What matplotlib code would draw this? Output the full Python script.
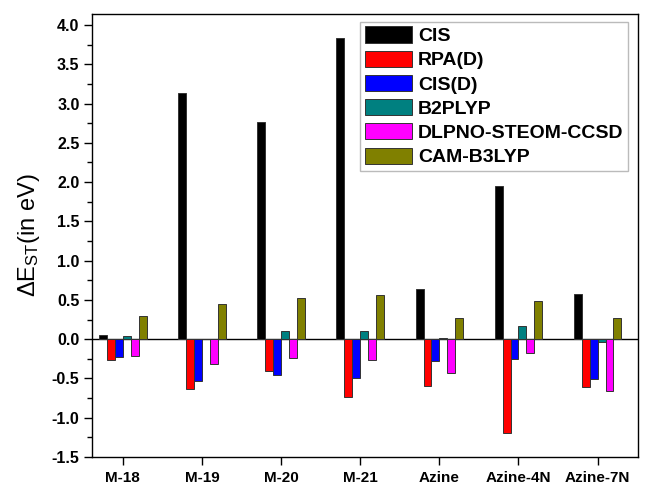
import matplotlib
matplotlib.use("Agg")
import matplotlib.pyplot as plt
from matplotlib.ticker import MultipleLocator
import numpy as np

plt.rcParams['font.family'] = ['Liberation Sans', 'DejaVu Sans']
plt.rcParams['mathtext.fontset'] = 'custom'
plt.rcParams['mathtext.rm'] = 'Liberation Sans'
plt.rcParams['mathtext.it'] = 'Liberation Sans'

molecules = ['M-18', 'M-19', 'M-20', 'M-21', 'Azine', 'Azine-4N', 'Azine-7N']
methods = ['CIS', 'RPA(D)', 'CIS(D)', 'B2PLYP', 'DLPNO-STEOM-CCSD', 'CAM-B3LYP']

cis = [0.05, 3.14, 2.76, 3.84, 0.64, 1.95, 0.58]
rpa_d = [-0.27, -0.63, -0.41, -0.73, -0.59, -1.20, -0.61]
cis_d = [-0.23, -0.53, -0.45, -0.50, -0.28, -0.25, -0.51]
b2plyp = [0.04, 0.0, 0.10, 0.11, 0.02, 0.17, -0.03]
dlpno = [-0.22, -0.32, -0.245, -0.27, -0.43, -0.18, -0.66]
cam_b3lyp = [0.30, 0.45, 0.52, 0.56, 0.27, 0.48, 0.27]

colors = ['#000000', '#ff0000', '#0000ff', '#008080', '#ff00ff', '#808000']
series = [cis, rpa_d, cis_d, b2plyp, dlpno, cam_b3lyp]

fig = plt.figure(figsize=(6.51, 4.88), dpi=100)
ax = fig.add_axes([0.1413, 0.0635, 0.8387, 0.9078])

x = np.arange(len(molecules))
w = 0.1
for i, (vals, c, lab) in enumerate(zip(series, colors, methods)):
    ax.bar(x + (i - 2.5) * w, vals, w, color=c, edgecolor='#333333',
           linewidth=0.7, label=lab)

ax.axhline(0, color='black', linewidth=1.0, zorder=0.5)

ax.set_xlim(-0.39, 6.51)
ax.set_ylim(-1.5, 4.14)
ax.set_xticks(x)
ax.set_xticklabels(molecules, fontweight='bold', fontsize=11)
yt = np.arange(-1.5, 4.01, 0.5)
ax.set_yticks(yt)
ax.set_yticklabels(['%.1f' % v for v in yt], fontweight='bold', fontsize=11.5)
ax.yaxis.set_minor_locator(MultipleLocator(0.25))
ax.tick_params(axis='both', direction='out', length=6, width=1, pad=3)
ax.tick_params(axis='y', which='minor', direction='out', length=3.5, width=1)
ax.tick_params(axis='x', pad=4)
for s in ax.spines.values():
    s.set_linewidth(1.0)

ax.set_ylabel(r'$\Delta$E$_{\mathrm{ST}}$(in eV)', fontsize=17, labelpad=7)

leg = ax.legend(loc='upper right', bbox_to_anchor=(0.982, 0.983),
                prop={'weight': 'bold', 'size': 14}, frameon=True,
                fancybox=False, edgecolor='#aaaaaa', handlelength=2.4,
                handleheight=0.9, labelspacing=0.28, handletextpad=0.3,
                borderpad=0.25, borderaxespad=0.0)
leg.get_frame().set_linewidth(1.0)

fig.savefig('out.png', dpi=100)
